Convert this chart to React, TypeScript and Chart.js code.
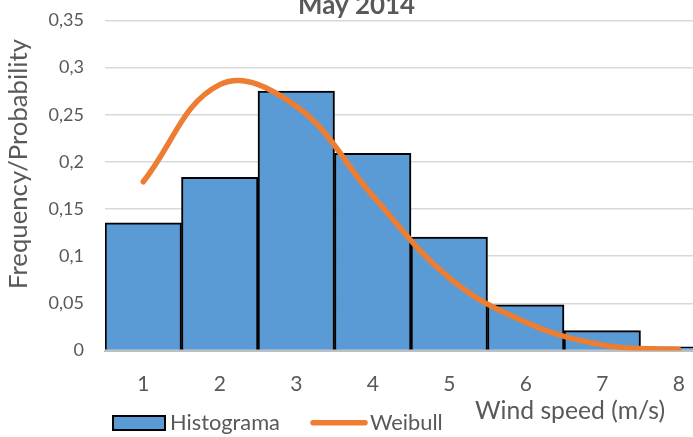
import React, { useEffect, useRef } from "react";
import { Chart, registerables } from "chart.js";

Chart.register(...registerables);

const categories = [1, 2, 3, 4, 5, 6, 7, 8];
const histogram = [0.1355, 0.1837, 0.2752, 0.2091, 0.1204, 0.0485, 0.021, 0.004];
const weibull = [0.179, 0.282, 0.259, 0.164, 0.077, 0.03, 0.006, 0.001];
const yTickValues = [0, 0.05, 0.1, 0.15, 0.2, 0.25, 0.3, 0.35];

const TITLE = "May 2014";
const X_TITLE = "Wind speed (m/s)";
const Y_TITLE = "Frequency/Probability";
const LEGEND_BAR = "Histograma";
const LEGEND_LINE = "Weibull";

const TEXT = "#595959";
const BLUE = "#5b9bd5";
const ORANGE = "#ed7d31";
const FONT = "Lato";

function fitSize(ctx: CanvasRenderingContext2D, text: string, weight: string, target: number) {
  ctx.font = `${weight} 20px ${FONT}`;
  const w = ctx.measureText(text).width;
  return (20 * target) / w;
}

function zeroPadding(scale: any) {
  scale.paddingTop = 0;
  scale.paddingBottom = 0;
  scale.paddingLeft = 0;
  scale.paddingRight = 0;
}

const textPlugin = {
  id: "textPlugin",
  afterDraw(chart: any) {
    const ctx: CanvasRenderingContext2D = chart.ctx;
    ctx.save();
    ctx.fillStyle = TEXT;

    // title
    const ts = fitSize(ctx, TITLE, "bold", 117);
    ctx.font = `bold ${ts}px ${FONT}`;
    ctx.textAlign = "center";
    ctx.textBaseline = "alphabetic";
    ctx.fillText(TITLE, 356.5, 14);

    // x title
    const xs = fitSize(ctx, X_TITLE, "normal", 190);
    ctx.font = `normal ${xs}px ${FONT}`;
    ctx.textAlign = "center";
    ctx.textBaseline = "middle";
    ctx.fillText(X_TITLE, 570, 411);

    // y title
    ctx.save();
    ctx.translate(19, 164);
    ctx.rotate(-Math.PI / 2);
    const ys = fitSize(ctx, Y_TITLE, "normal", 250);
    ctx.font = `normal ${ys}px ${FONT}`;
    ctx.textAlign = "center";
    ctx.textBaseline = "middle";
    ctx.fillText(Y_TITLE, 0, 0);
    ctx.restore();

    // legend
    ctx.fillStyle = BLUE;
    ctx.fillRect(113, 416, 52, 14);
    ctx.strokeStyle = "#000";
    ctx.lineWidth = 2;
    ctx.strokeRect(113, 416, 52, 14);
    const ls = fitSize(ctx, LEGEND_BAR, "normal", 110);
    ctx.font = `normal ${ls}px ${FONT}`;
    ctx.fillStyle = TEXT;
    ctx.textAlign = "left";
    ctx.textBaseline = "middle";
    ctx.fillText(LEGEND_BAR, 170, 423);

    ctx.strokeStyle = ORANGE;
    ctx.lineWidth = 5.5;
    ctx.lineCap = "round";
    ctx.beginPath();
    ctx.moveTo(313, 422.7);
    ctx.lineTo(365, 422.7);
    ctx.stroke();
    ctx.fillText(LEGEND_LINE, 370, 423);

    ctx.restore();
  },
};

export default function App() {
  const ref = useRef<HTMLCanvasElement>(null);

  useEffect(() => {
    if (!ref.current) return;
    const chart = new Chart(ref.current, {
      type: "bar",
      data: {
        datasets: [
          {
            type: "line",
            label: LEGEND_LINE,
            data: categories.map((c, i) => ({ x: c, y: weibull[i] })),
            borderColor: ORANGE,
            borderWidth: 5.5,
            borderCapStyle: "round",
            borderJoinStyle: "round",
            pointRadius: 0,
            tension: 0.4,
            fill: false,
            order: 0,
          } as any,
          {
            type: "bar",
            label: LEGEND_BAR,
            data: categories.map((c, i) => ({ x: c, y: histogram[i] })),
            backgroundColor: BLUE,
            borderColor: "#000",
            borderWidth: 2,
            barPercentage: 1,
            categoryPercentage: 1,
            order: 1,
          } as any,
        ],
      },
      options: {
        animation: false,
        responsive: false,
        maintainAspectRatio: false,
        layout: { padding: { top: 20.5, left: 0, right: 0, bottom: 0 } },
        plugins: {
          legend: { display: false },
          title: { display: false },
          tooltip: { enabled: false },
        },
        scales: {
          x: {
            type: "linear",
            min: 0.5,
            max: 0.5 + (693 - 105) / 76.5,
            offset: false,
            afterBuildTicks: (scale: any) => {
              scale.ticks = categories.map((v) => ({ value: v }));
            },
            afterFit: (scale: any) => {
              scale.height = 437 - 350.5;
              zeroPadding(scale);
            },
            grid: { display: false, drawTicks: false },
            border: { display: true, color: "#bfbfbf", width: 2 },
            ticks: {
              color: TEXT,
              font: { family: FONT, size: 21 },
              padding: 21,
              maxRotation: 0,
              autoSkip: false,
              callback: (v: any) => String(v),
            },
          },
          y: {
            min: 0,
            max: 0.35,
            afterBuildTicks: (scale: any) => {
              scale.ticks = yTickValues.map((v) => ({ value: v }));
            },
            afterFit: (scale: any) => {
              scale.width = 105;
              zeroPadding(scale);
            },
            grid: { color: "#d9d9d9", lineWidth: 1.5, drawTicks: false },
            border: { display: false },
            ticks: {
              color: TEXT,
              font: { family: FONT, size: 18 },
              padding: 21,
              callback: (v: any) =>
                Number(v) === 0 ? "0" : Number(v).toFixed(2).replace(/0+$/, "").replace(".", ","),
            },
          },
        },
      } as any,
      plugins: [textPlugin],
    });
    return () => chart.destroy();
  }, []);

  return (
    <div style={{ position: "fixed", left: 0, top: 0, width: 693, height: 437, background: "#fff" }}>
      <canvas ref={ref} width={693} height={437} style={{ width: 693, height: 437, display: "block" }} />
    </div>
  );
}
